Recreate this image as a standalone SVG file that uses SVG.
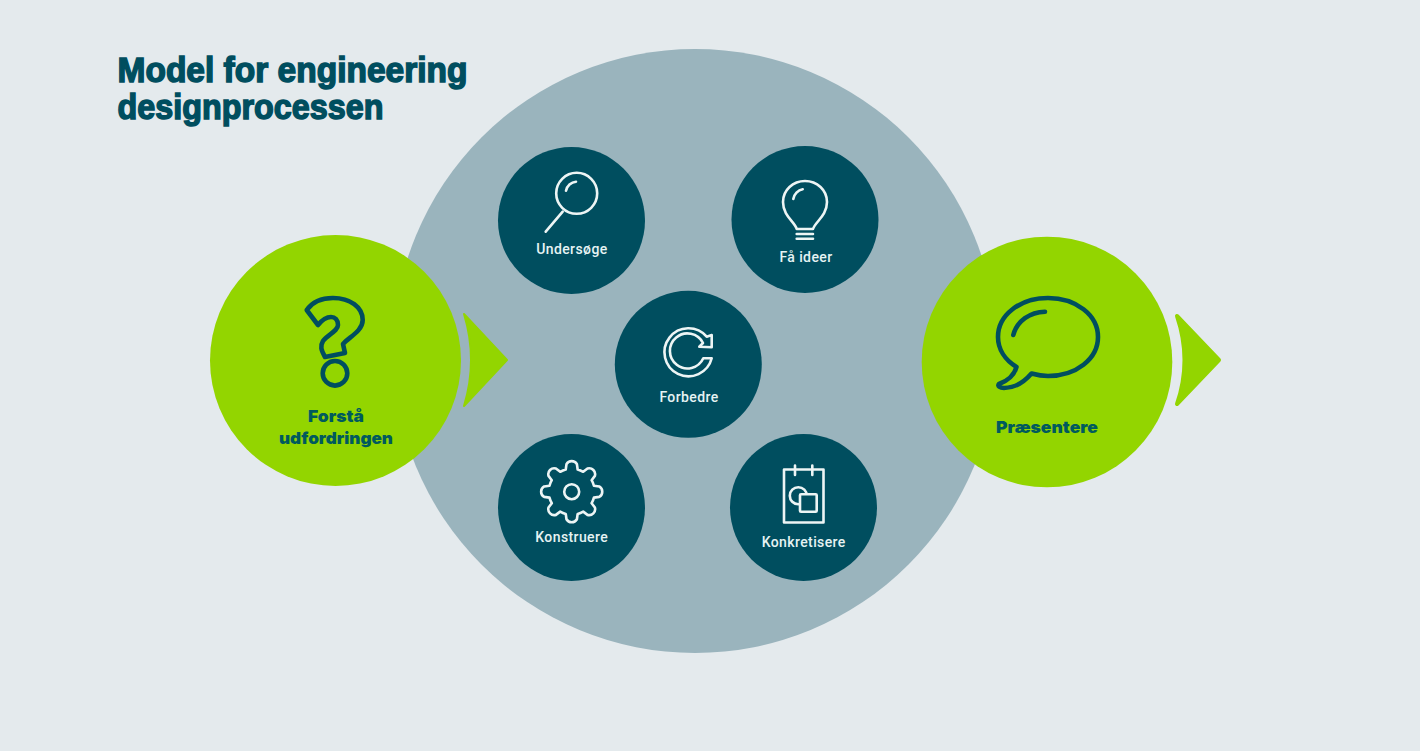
<svg xmlns="http://www.w3.org/2000/svg" width="1420" height="751" viewBox="0 0 1420 751">
<style>
.dark{fill:#004e5f}
.green{fill:#93d500}
.ico{fill:none;stroke:#edf5f5;stroke-width:2.6;stroke-linecap:round;stroke-linejoin:round}
.gico{fill:none;stroke:#004e5f;stroke-width:4.6;stroke-linecap:round;stroke-linejoin:round}
.lbl{font-family:"Roboto","Liberation Sans",sans-serif;font-weight:500;font-size:14px;fill:#e6f3f3;text-anchor:middle;letter-spacing:.4px}
.glbl{font-family:"Inter","Liberation Sans",sans-serif;font-weight:900;font-size:16.5px;fill:#005a5e}
.title{font-family:"Liberation Sans",sans-serif;font-weight:700;font-size:35px;fill:#004e5f;stroke:#004e5f;stroke-width:1.5px}
.arrow{fill:#93d500;stroke:#93d500;stroke-linejoin:round}
</style>
<rect width="1420" height="751" fill="#e4eaed"/>
<circle id="process-area" cx="695" cy="351" r="302" fill="#9ab4bd"/>
<g id="title">
<text class="title" x="117.5" y="82" textLength="350" lengthAdjust="spacingAndGlyphs">Model for engineering</text>
<text class="title" x="117.5" y="119" textLength="266" lengthAdjust="spacingAndGlyphs">designprocessen</text>
</g>
<g id="connectors">
<path class="arrow" stroke-width="2" d="M464 314 L507 360 L464 406 Q478 360 464 314Z"/>
<path class="arrow" stroke-width="4" d="M1177 316 L1219 360 L1177 404 Q1192 360 1177 316Z"/>
</g>
<g id="forsta">
<circle class="green" cx="335.5" cy="360.5" r="125.5"/>
<path class="gico" d="M306.7 310 C313 301 323 298 333 298 C350 298 362.7 307 362.7 320 C362.7 331 349 337 343 344 L345 353 L325 357 C321 350 320 346 323 341 C327 335 338 331 338 325 C338 320 335 317 331 317 C326 317 322 320 318 325 Z"/>
<circle class="gico" cx="335" cy="373.3" r="12.3"/>
<text class="glbl" x="308" y="421.7" textLength="56" lengthAdjust="spacingAndGlyphs">Forstå</text>
<text class="glbl" x="279" y="444" textLength="114" lengthAdjust="spacingAndGlyphs">udfordringen</text>
</g>
<g id="praesentere">
<circle class="green" cx="1047" cy="362" r="125.3"/>
<path class="gico" d="M1031.5 373.5 C1037 375 1042 376 1048 376 C1076 376 1098 359 1098 337 C1098 315 1076 298 1048 298 C1020 298 998 315 998 337 C998 349 1005 360 1016.5 367 C1014 376 1007 381 999 384 C997 386 1000 388 1004 388 C1015 388 1025 381 1031.5 373.5Z"/>
<path class="gico" d="M1013.3 335 C1017 321 1030 312 1045 311.7"/>
<text class="glbl" x="996" y="433" textLength="102" lengthAdjust="spacingAndGlyphs">Præsentere</text>
</g>
<g id="undersoge">
<circle class="dark" cx="571.5" cy="220.5" r="73.5"/>
<circle class="ico" cx="576.7" cy="193.3" r="20.5"/>
<path class="ico" d="M562.7 211.7 L545.7 231.7 M566 190.7 C567 186 571 182 576 181.7"/>
<text class="lbl" x="571.9" y="254">Undersøge</text>
</g>
<g id="fa-ideer">
<circle class="dark" cx="805" cy="219.5" r="73.5"/>
<path class="ico" d="M796.7 229 C795 222 783 216 783 202 C783 190 793 181 805 181 C817 181 827 190 827 202 C827 216 815 222 813 229 Z M796.7 234 H813 M796.7 238.7 H813 M793.3 199 C794 194 798 190 802.7 189.3"/>
<text class="lbl" x="806" y="262">Få ideer</text>
</g>
<g id="forbedre">
<circle class="dark" cx="688.3" cy="364.3" r="73.5"/>
<path class="ico" d="M711.7 358.3 A24 24 0 1 1 706.7 336.7 L711.7 335 V347.3 L699.3 346.7 L703 343 A17.5 17.5 0 1 0 703.3 358.3 Z"/>
<text class="lbl" x="689" y="402">Forbedre</text>
</g>
<g id="konstruere">
<circle class="dark" cx="571.5" cy="507.5" r="73.5"/>
<g transform="translate(571.7 491.7)">
<path class="ico" d="M-5.95 -22.22 L-5.21 -27.54 A6 6 0 0 1 5.21 -27.54 L5.95 -22.22 Q8.8 -21.5 11.5 -19.92 L15.8 -23.2 A6 6 0 0 1 23.2 -15.8 L19.92 -11.5 Q21.5 -8.8 22.22 -5.95 L27.54 -5.21 A6 6 0 0 1 27.54 5.21 L22.22 5.95 Q21.5 8.8 19.92 11.5 L23.2 15.8 A6 6 0 0 1 15.8 23.2 L11.5 19.92 Q8.8 21.5 5.95 22.22 L5.21 27.54 A6 6 0 0 1 -5.21 27.54 L-5.95 22.22 Q-8.8 21.5 -11.5 19.92 L-15.8 23.2 A6 6 0 0 1 -23.2 15.8 L-19.92 11.5 Q-21.5 8.8 -22.22 5.95 L-27.54 5.21 A6 6 0 0 1 -27.54 -5.21 L-22.22 -5.95 Q-21.5 -8.8 -19.92 -11.5 L-23.2 -15.8 A6 6 0 0 1 -15.8 -23.2 L-11.5 -19.92 Q-8.8 -21.5 -5.95 -22.22Z"/>
<circle class="ico" r="7.5"/>
</g>
<text class="lbl" x="571.7" y="541.5">Konstruere</text>
</g>
<g id="konkretisere">
<circle class="dark" cx="803.5" cy="507.5" r="73.5"/>
<rect class="ico" x="784" y="469.5" width="39.5" height="53"/>
<path class="ico" d="M795 465.5 V475 M812.3 465.5 V475"/>
<circle class="ico" cx="798.3" cy="495.7" r="8.5"/>
<rect class="ico" x="800" y="494.3" width="16.7" height="17.4" rx="1" style="fill:#004e5f"/>
<text class="lbl" x="803.7" y="547">Konkretisere</text>
</g>
</svg>
